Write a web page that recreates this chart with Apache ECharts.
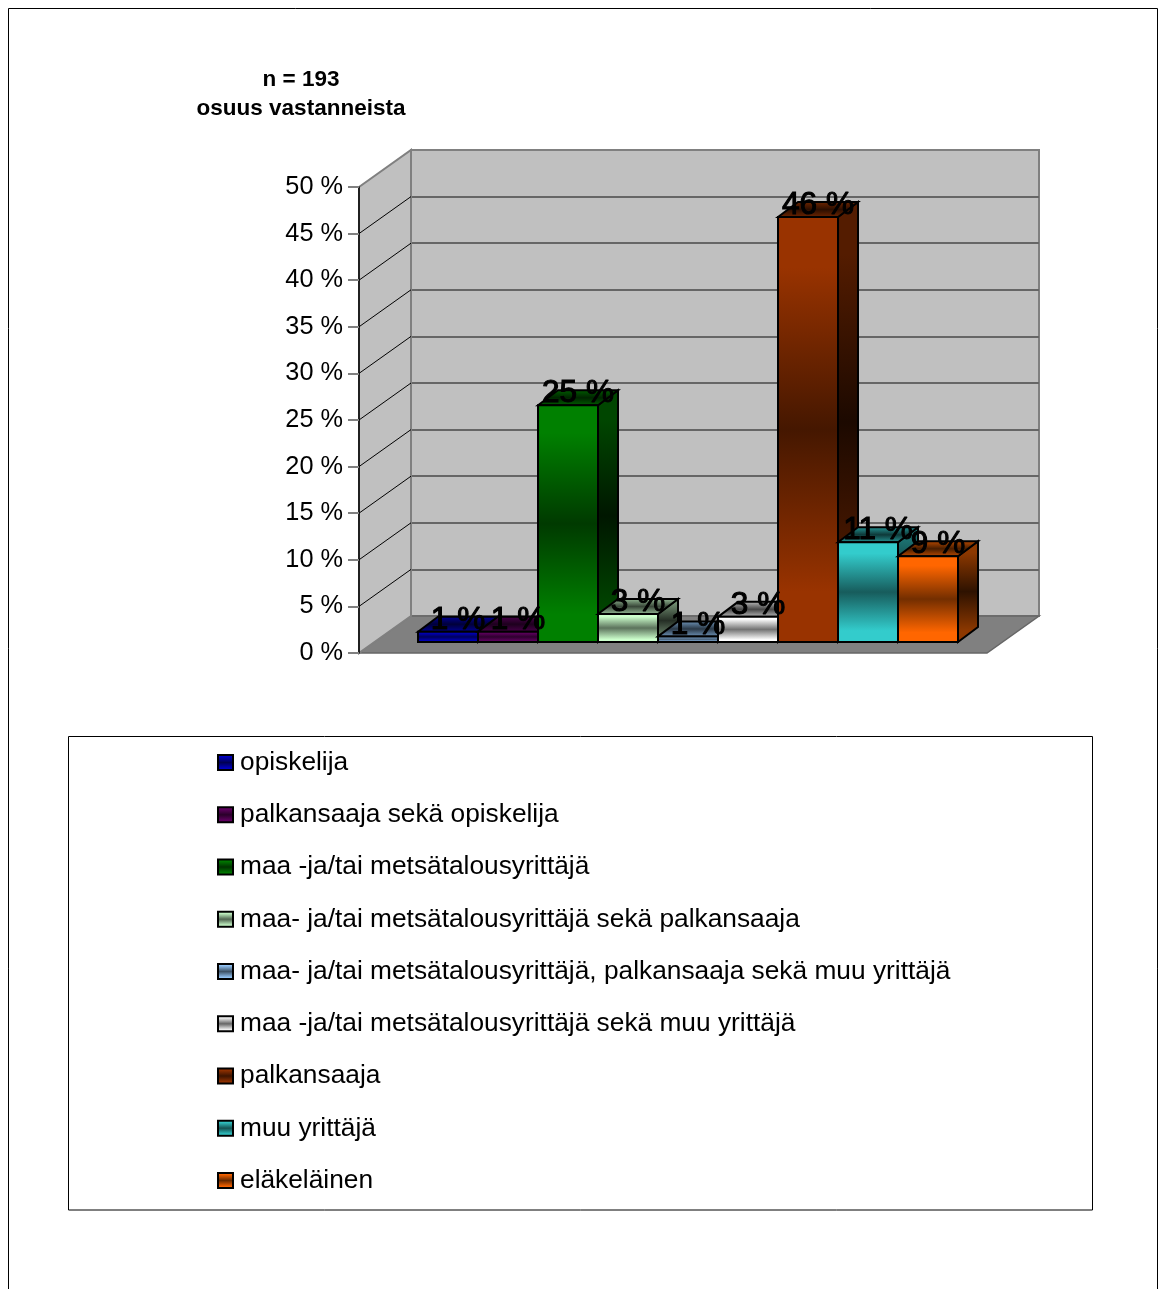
<!DOCTYPE html>
<html>
<head>
<meta charset="utf-8">
<style>html,body{margin:0;padding:0;background:#fff;overflow:hidden}#c{width:1166px;height:1289px}</style>
<script src="https://cdn.jsdelivr.net/npm/echarts@6/dist/echarts.min.js"></script>
</head>
<body>
<div id="c"></div>
<script>
const categories = [
  'opiskelija',
  'palkansaaja sekä opiskelija',
  'maa -ja/tai metsätalousyrittäjä',
  'maa- ja/tai metsätalousyrittäjä sekä palkansaaja',
  'maa- ja/tai metsätalousyrittäjä, palkansaaja sekä muu yrittäjä',
  'maa -ja/tai metsätalousyrittäjä sekä muu yrittäjä',
  'palkansaaja',
  'muu yrittäjä',
  'eläkeläinen'
];
const shares = [1.1, 1.1, 25.4, 3.0, 0.6, 2.7, 45.6, 10.7, 9.2];
const barColors = ['#0000cc','#660066','#008000','#ccffcc','#99ccff','#ffffff','#993300','#33cccc','#ff6600'];
const axisTicks = [0,5,10,15,20,25,30,35,40,45,50];
const titleLines = ['n = 193','osuus vastanneista'];

const FONT = '"Liberation Sans", Arial, sans-serif';
const WALL = [52, -37];
const BAR_DEPTH = [20, -15];

function shade(hex, f){
  const n = parseInt(hex.slice(1),16);
  const p = [(n>>16)&255,(n>>8)&255,n&255].map(v=>Math.round(v*f));
  return 'rgb('+p.join(',')+')';
}
function mirror(hex, end, mid){
  return new echarts.graphic.LinearGradient(0,0,0,1,[
    {offset:0,color:shade(hex,end)},
    {offset:0.12,color:shade(hex,end)},
    {offset:0.5,color:shade(hex,mid)},
    {offset:0.88,color:shade(hex,end)},
    {offset:1,color:shade(hex,end)}
  ]);
}
function renderBar(colorHex){
  return function(params, api){
    const x = api.value(0), v = api.value(1);
    const base = api.coord([x,0]), top = api.coord([x,v]);
    const w = api.size([1,0])[0];
    const l = base[0]-w/2, r = base[0]+w/2, yb = base[1], yt = top[1];
    const [dx,dy] = BAR_DEPTH;
    const edge = {stroke:'#000',lineWidth:2,lineJoin:'miter'};
    return {type:'group',children:[
      {type:'polygon',shape:{points:[[r,yb],[r+dx,yb+dy],[r+dx,yt+dy],[r,yt]]},
       style:Object.assign({fill:mirror(colorHex,0.55,0.18)},edge)},
      {type:'polygon',shape:{points:[[l,yt],[l+dx,yt+dy],[r+dx,yt+dy],[r,yt]]},
       style:Object.assign({fill:mirror(colorHex,0.65,0.28)},edge)},
      {type:'rect',shape:{x:l,y:yt,width:w,height:yb-yt},
       style:Object.assign({fill:mirror(colorHex,1,0.45)},edge)},
      {type:'text',z2:100,x:base[0]+10,y:yt-11.5,
       style:{text:Math.round(v)+' %',font:'31.5px '+FONT,fill:'#000',stroke:'#000',lineWidth:1.1,
              textAlign:'center',textVerticalAlign:'middle'}}
    ]};
  };
}
function renderWalls(params, api){
  const [dx,dy] = WALL;
  const bottom = api.coord([0,0]), topp = api.coord([0,50]);
  const xl = bottom[0], xr = xl + api.size([1,0])[0];
  const children = [
    {type:'polygon',shape:{points:[[xl,bottom[1]],[xl+dx,bottom[1]+dy],[xr+dx,bottom[1]+dy],[xr,bottom[1]]]},
     style:{fill:'#808080',stroke:'#666666',lineWidth:1.5}},
    {type:'polygon',shape:{points:[[xl,topp[1]],[xl+dx,topp[1]+dy],[xl+dx,bottom[1]+dy],[xl,bottom[1]]]},
     style:{fill:'#c0c0c0',stroke:'#808080',lineWidth:2}}
  ];
  axisTicks.slice(1,-1).forEach(t=>{
    const y = api.coord([0,t])[1];
    children.push({type:'line',shape:{x1:xl,y1:y,x2:xl+dx,y2:y+dy},style:{stroke:'#000',lineWidth:1}});
  });
  return {type:'group',children};
}

const chart = echarts.init(document.getElementById('c'),null,{renderer:'canvas',width:1166,height:1289});
const barSeries = categories.map((name,i)=>({
  name, type:'custom', xAxisIndex:2, yAxisIndex:2, z:4, animation:false,
  coordinateSystem:'cartesian2d',
  itemStyle:{color:mirror(barColors[i],1,0.4),borderColor:'#000',borderWidth:2},
  renderItem:renderBar(barColors[i]),
  encode:{x:0,y:1},
  data:[[i,shares[i]]]
}));
chart.setOption({
  animation:false,
  backgroundColor:'#fff',
  textStyle:{fontFamily:FONT},
  title:{
    text:titleLines.join('\n'),left:301,top:65,textAlign:'center',padding:0,
    textStyle:{fontFamily:FONT,fontSize:22.5,fontWeight:'bold',color:'#000',lineHeight:29}
  },
  grid:[
    {left:359,top:187,width:628,height:466},
    {left:411,top:150,width:628,height:466,show:true,backgroundColor:'#c0c0c0',borderColor:'#808080',borderWidth:2},
    {left:418,top:176,width:540,height:466}
  ],
  xAxis:[
    {gridIndex:0,type:'value',min:0,max:1,show:false},
    {gridIndex:1,type:'value',min:0,max:1,show:false},
    {gridIndex:2,type:'category',data:categories,show:false}
  ],
  yAxis:[
    {gridIndex:0,type:'value',min:0,max:50,interval:5,
     axisLine:{show:true,onZero:false,lineStyle:{color:'#000',width:1.5}},
     axisTick:{show:true,length:11,lineStyle:{color:'#808080',width:2}},
     axisLabel:{formatter:'{value} %',fontFamily:FONT,fontSize:25.3,color:'#000',margin:16,padding:[2,0,0,0]},
     splitLine:{show:false},z:3},
    {gridIndex:1,type:'value',min:0,max:50,interval:5,
     axisLine:{show:false},axisTick:{show:false},axisLabel:{show:false},
     splitLine:{show:true,showMinLine:false,showMaxLine:false,lineStyle:{color:'#666666',width:2}}},
    {gridIndex:2,type:'value',min:0,max:50,interval:5,show:false}
  ],
  legend:{
    orient:'vertical',left:217,top:747.5,
    itemWidth:15,itemHeight:15,itemGap:22.25,padding:0,
    icon:'rect',selectedMode:false,
    textStyle:{fontFamily:FONT,fontSize:26.3,color:'#000',lineHeight:30,padding:[0,0,0,2]},
    data:categories
  },
  graphic:[
    {type:'polyline',silent:true,shape:{points:[[8.5,1289],[8.5,8.5],[1157.5,8.5],[1157.5,1289]]},
     style:{stroke:'#000',fill:null,lineWidth:1}},
    {type:'rect',silent:true,shape:{x:68.5,y:736.5,width:1024,height:473.5},
     style:{stroke:'#000',fill:null,lineWidth:1}}
  ],
  series:[{
    type:'custom',xAxisIndex:0,yAxisIndex:0,z:1,silent:true,animation:false,
    coordinateSystem:'cartesian2d',renderItem:renderWalls,data:[[0,0]],encode:{x:0,y:1}
  }].concat(barSeries)
});
</script>
</body>
</html>
